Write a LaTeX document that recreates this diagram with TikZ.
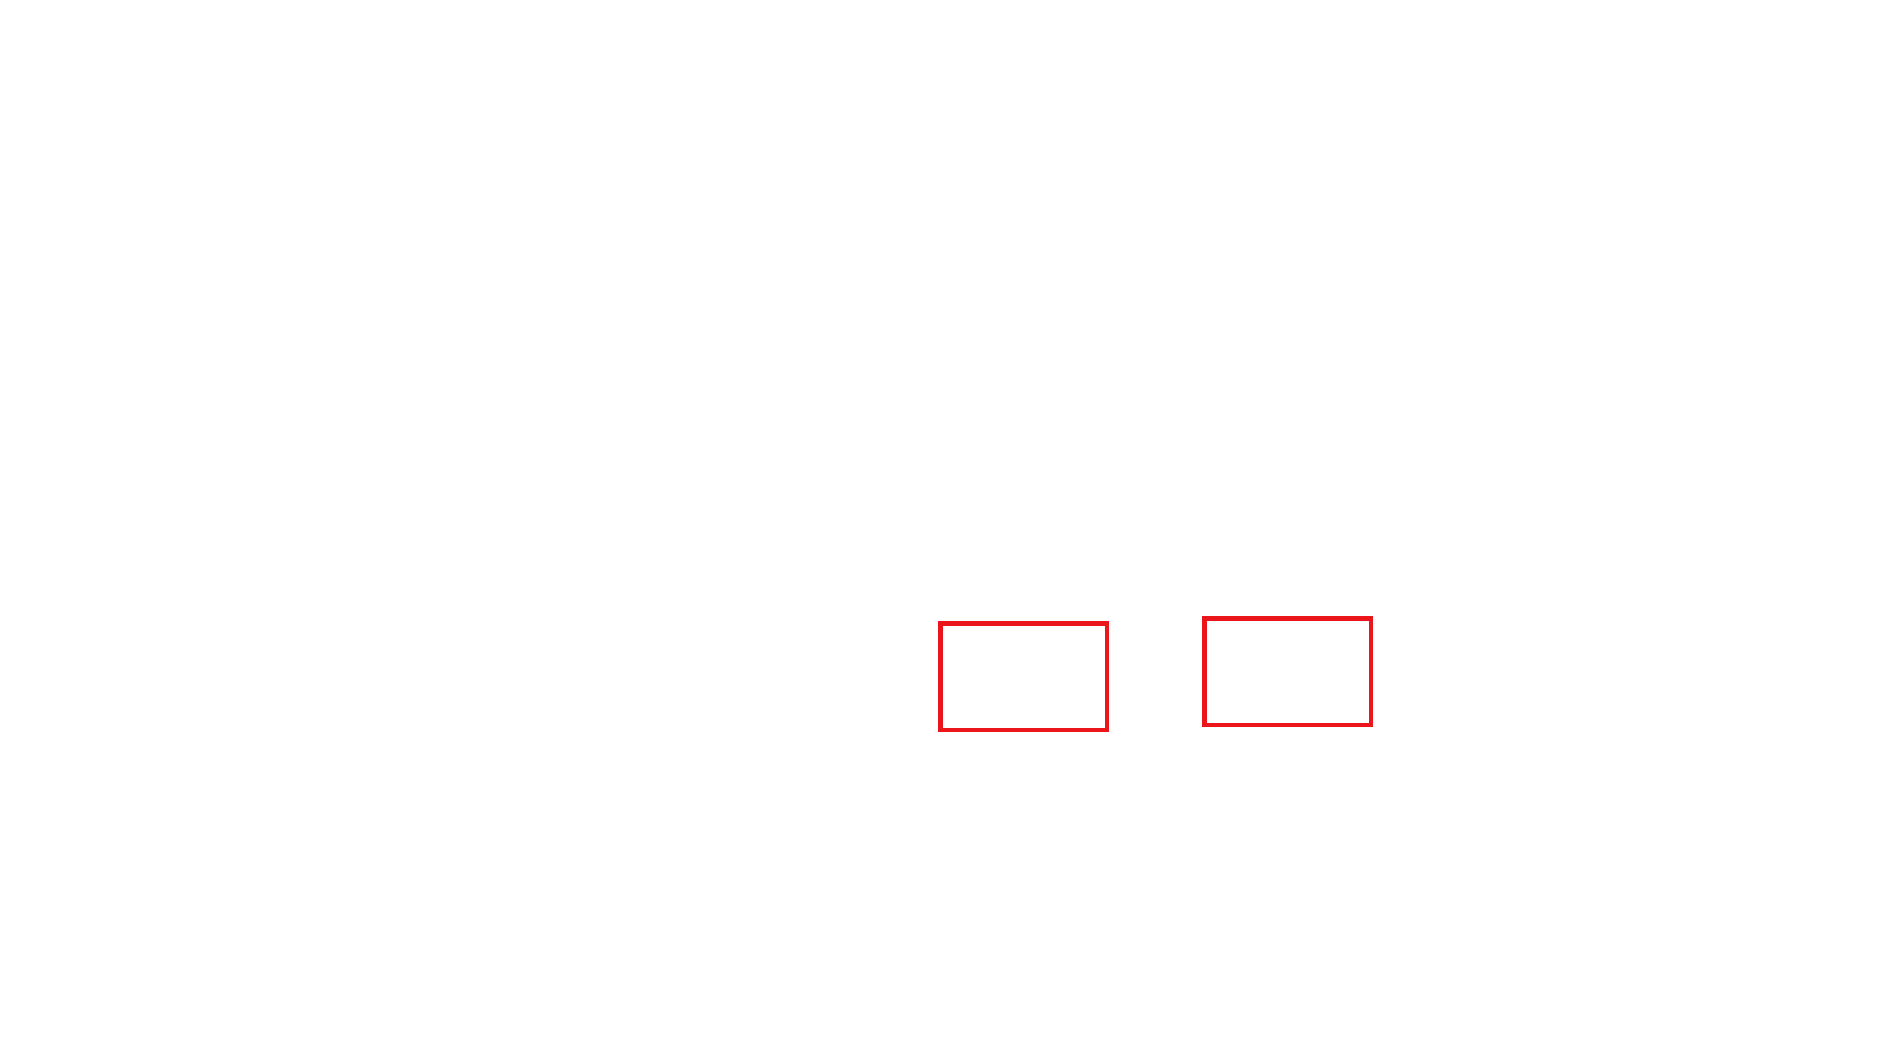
\documentclass[tikz,border=0pt]{standalone}
\definecolor{boxred}{RGB}{235,22,27}
\begin{document}
\begin{tikzpicture}[x=1pt,y=-1pt,redbox/.style={draw=boxred,line width=4.5pt,inner sep=0pt,rectangle,minimum width=166.5pt,minimum height=106.5pt}]
\useasboundingbox[fill=white] (0,0) rectangle (1890,1063);
\node[redbox] (a) at (1023.5,676.5) {};
\node[redbox] (b) at (1287.5,671.5) {};
\end{tikzpicture}
\end{document}
